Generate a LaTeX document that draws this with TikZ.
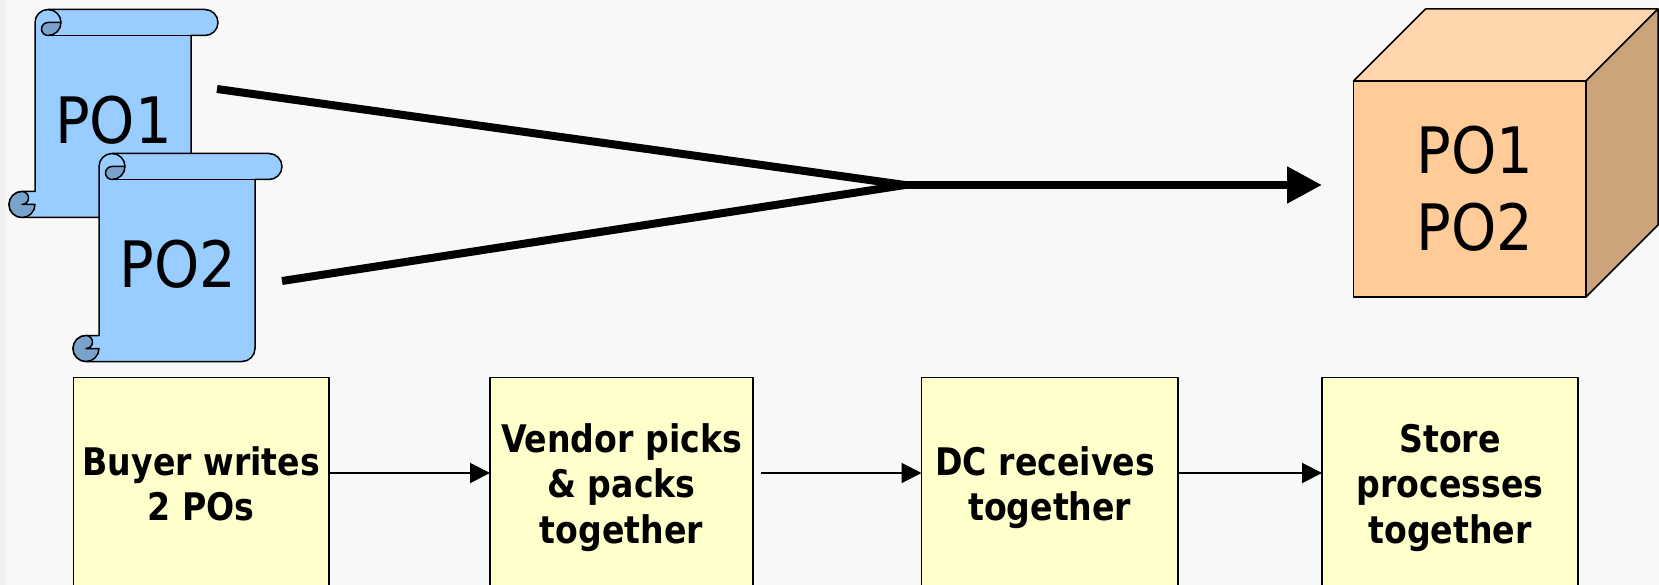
\documentclass[tikz,border=0pt]{standalone}
\usepackage{fontspec}
\usetikzlibrary{arrows.meta}
\newfontfamily\tahfont{DejaVu Sans Condensed}
\newfontfamily\tahbold[FakeStretch=0.97]{DejaVu Sans Condensed}
\newcommand\topst{\rule{0pt}{41pt}}
\newcommand\botst{\rule[-8pt]{0pt}{8pt}}
\definecolor{bgc}{HTML}{F8F8F8}
\definecolor{stripc}{HTML}{F0F0F0}
\definecolor{scrollc}{HTML}{99CCFF}
\definecolor{curlc}{HTML}{7AA3CC}
\definecolor{frontc}{HTML}{FFCC99}
\definecolor{topc}{HTML}{FFD6AD}
\definecolor{sidec}{HTML}{CCA37A}
\definecolor{boxc}{HTML}{FFFFCC}
\tikzset{
  outl/.style={draw=black,line width=1.5pt,line join=round},
  scrollpic/.pic={
    \begin{scope}[yscale=-1]
    \path[outl,fill=scrollc] (0,13) arc[start angle=180,end angle=270,radius=13] -- (170,0)
      arc[start angle=270,end angle=450,radius=13] -- (156,26) -- (156,195)
      arc[start angle=0,end angle=90,radius=13] -- (-13,208)
      arc[start angle=90,end angle=270,radius=13] -- (0,182) -- cycle;
    \path[outl,fill=curlc] (13,13) -- (26,13) arc[start angle=0,end angle=90,radius=13]
      arc[start angle=90,end angle=270,radius=6.5] -- cycle;
    \path[outl] (13,0) arc[start angle=270,end angle=360,radius=13];
    \path[outl] (13,26) -- (156,26);
    \path[outl,fill=curlc] (-13,195) arc[start angle=90,end angle=-90,radius=6.5]
      arc[start angle=270,end angle=90,radius=13]
      arc[start angle=90,end angle=0,radius=13] -- cycle;
    \end{scope}
  },
  scrolltext/.style={font=\tahfont\fontsize{64}{76.7}\selectfont,inner sep=0pt,text=black},
  flowbox/.style={outl,fill=boxc,minimum height=208pt,inner sep=0pt,outer sep=0pt,align=center,
    font=\tahbold\bfseries\fontsize{38}{45.6}\selectfont,text=black,anchor=north west},
  flowarrow/.style={draw=black,line width=2pt,-{Triangle[length=20pt,width=20pt]}},
  bigline/.style={draw=black,line width=8pt},
  bigarrow/.style={bigline,-{Triangle[length=35pt,width=35pt]}}
}
\begin{document}
\begin{tikzpicture}[x=1pt,y=1pt,yscale=-1]
\useasboundingbox (0,0) rectangle (1659,585);
\fill[bgc] (0,0) rectangle (1659,585);
\fill[stripc] (0,0) rectangle (6,585);
% scrolls
\pic at (35,9.5) {scrollpic};
\node[scrolltext] (po1) at (113.5,120.5) {PO1};
\pic at (99,153.5) {scrollpic};
\node[scrolltext] (po2) at (178,264.5) {PO2};
% cube
\path[outl,fill=topc] (1353.5,81) -- (1425.5,9) -- (1658,9) -- (1586,81) -- cycle;
\path[outl,fill=sidec] (1586,81) -- (1658,9) -- (1658,225) -- (1586,297) -- cycle;
\path[outl,fill=frontc] (1353.5,81) rectangle (1586,297);
\node[scrolltext,align=center] (cube) at (1475,188.5) {PO1\\PO2};
% big connectors
\coordinate (s1) at (217,89);
\coordinate (s2) at (282,281);
\coordinate (j) at (905,185);
\coordinate (t) at (1322,185);
\draw[bigline] (s1) -- (j);
\draw[bigline] (s2) -- (j);
\draw[bigarrow] (j) -- (t);
% flow
\node[flowbox,minimum width=255.5pt] (b1) at (73.5,377.5) {\topst Buyer writes\\2 POs\botst};
\node[flowbox,minimum width=263pt] (b2) at (490,377.5) {\topst Vendor picks\\\&\ packs\\together\botst};
\node[flowbox,minimum width=256.5pt] (b3) at (921.5,377.5) {\topst DC receives\hspace*{9pt}\\together\botst};
\node[flowbox,minimum width=256pt] (b4) at (1322,377.5) {\topst Store\\processes\\together\botst};
\coordinate (b2o) at (761,473);
\draw[flowarrow] (b1.east |- 0,473) -- (b2.west |- 0,473);
\draw[flowarrow] (b2o) -- (b3.west |- 0,473);
\draw[flowarrow] (b3.east |- 0,473) -- (b4.west |- 0,473);
\end{tikzpicture}
\end{document}
